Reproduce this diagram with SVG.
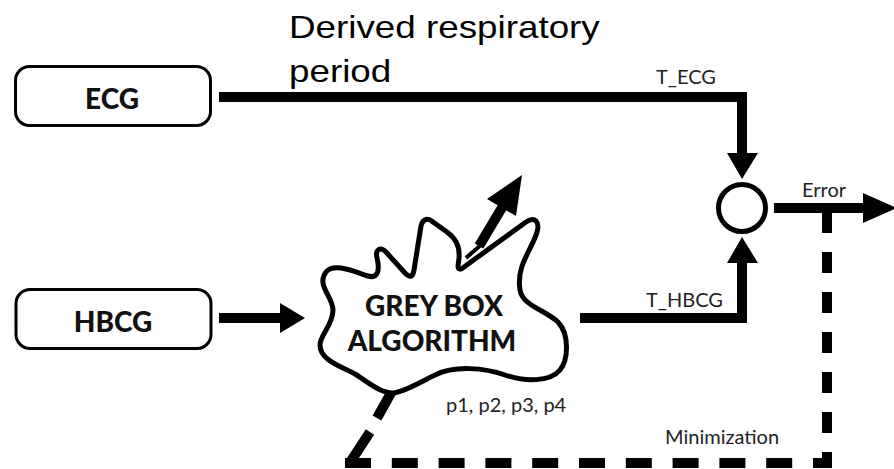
<svg xmlns="http://www.w3.org/2000/svg" width="894" height="469" viewBox="0 0 894 469">
  <style>
    .box { fill: #fff; stroke: #000; stroke-width: 3; }
    .boxlabel { font-family: Lato, "Open Sans", sans-serif; font-weight: 900; font-size: 28px; fill: #111; text-anchor: middle; }
    .small { font-family: Lato, "Open Sans", sans-serif; font-size: 20px; fill: #222; }
    .wire { fill: none; stroke: #000; stroke-width: 10; stroke-linejoin: miter; stroke-linecap: butt; }
    .head { fill: #000; }
  </style>

  <!-- title -->
  <g id="title" transform="translate(289,0) scale(1.15,1)">
    <text font-family="'Liberation Sans', Arial, sans-serif" font-size="32" fill="#000">
      <tspan x="0" y="38">Derived respiratory</tspan>
      <tspan x="0" y="82">period</tspan>
    </text>
  </g>

  <!-- connectors -->
  <g id="connectors">
    <!-- ECG to comparator -->
    <path class="wire" d="M219,97 H742 V155"/>
    <polygon class="head" points="727,153 758,153 742,179"/>
    <!-- HBCG into algorithm -->
    <path class="wire" d="M219,318 H282"/>
    <polygon class="head" points="280,303 280,333 305,318"/>
    <!-- algorithm to comparator -->
    <path class="wire" d="M580,318 H742 V261"/>
    <polygon class="head" points="727,263 758,263 742,237"/>
    <!-- error output -->
    <path class="wire" d="M774,208 H865"/>
    <polygon class="head" points="863,193 863,223 897,208"/>
    <!-- derived period out of the algorithm -->
    <path d="M466,258 L482,244" stroke="#000" stroke-width="4" fill="none"/>
    <path class="wire" d="M479,246 L503,206"/>
    <polygon class="head" points="522,175 487,199 516,216"/>
    <!-- minimization feedback loop -->
    <path class="wire" d="M827,212 V468" stroke-dasharray="21 19"/>
    <path class="wire" d="M345,463 H832" stroke-dasharray="26 20.8"/>
    <path class="wire" d="M391,393 L377,418"/>
    <path class="wire" d="M370,432 L349,464"/>
  </g>

  <!-- input nodes -->
  <g id="ecg">
    <rect class="box" x="15.5" y="66.5" width="195" height="59" rx="14"/>
    <text class="boxlabel" x="112" y="109">ECG</text>
  </g>
  <g id="hbcg">
    <rect class="box" x="16" y="289.5" width="195" height="59" rx="14"/>
    <text class="boxlabel" x="113" y="332">HBCG</text>
  </g>

  <!-- grey box algorithm -->
  <g id="algorithm">
    <path fill="#fff" stroke="#000" stroke-width="5" stroke-linejoin="round"
      d="M333,310
         C333,297 316,285 326,272
         C334,262 355,272 368,276
         C378,279 380,270 377,258
         C375,250 380,246 386,252
         L405,273
         C411,279 413,276 414,270
         L421,226
         C423,218 428,218 433,222
         L447,232
         C455,238 460,245 459,258
         L458,266
         C458,270 461,270 464,267
         L526,222
         C535,216 540,222 537,232
         C532,250 516,265 520,290
         C522,305 545,310 558,322
         C570,335 568,360 560,370
         C550,382 525,382 505,375
         C485,368 455,365 435,375
         C420,382 405,392 393,393
         C380,393 368,382 355,374
         C340,366 320,360 320,345
         C320,335 333,325 333,310 Z"/>
    <text class="boxlabel" x="434" y="316" font-size="27">GREY BOX</text>
    <text class="boxlabel" x="432" y="351" font-size="27">ALGORITHM</text>
  </g>

  <!-- comparator -->
  <g id="comparator">
    <circle cx="742" cy="208" r="23.5" fill="#fff" stroke="#000" stroke-width="5"/>
  </g>

  <!-- signal labels -->
  <g id="labels">
    <text class="small" x="656" y="84">T_ECG</text>
    <text class="small" x="646" y="307">T_HBCG</text>
    <text class="small" x="802" y="197">Error</text>
    <text class="small" x="446" y="412">p1, p2, p3, p4</text>
    <text class="small" x="665" y="444">Minimization</text>
  </g>
</svg>
